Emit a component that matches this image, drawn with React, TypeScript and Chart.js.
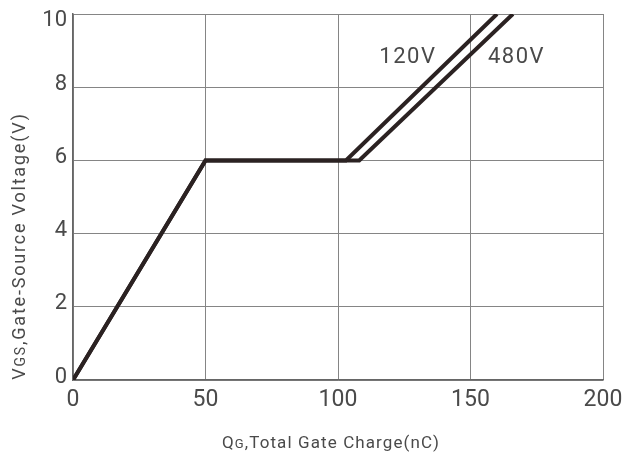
import React, { useEffect, useRef } from "react";
import { Chart, registerables } from "chart.js";

Chart.register(...registerables);

// Data
const qg120 = [0, 50, 103, 160];
const vgs120 = [0, 6, 6, 10];
const qg480 = [0, 50, 108, 166];
const vgs480 = [0, 6, 6, 10];
const seriesNames = ["120V", "480V"];
const labelQg = [126, 167];
const labelVgs = [8.8, 8.8];

const xTitleMain = ["Q", "G", ",Total Gate Charge(nC)"];
const yTitleMain = ["V", "GS", ",Gate-Source Voltage(V)"];

const FONT = "Roboto, 'Liberation Sans', sans-serif";
const LINE_COLOR = "#2b2222";
const TEXT_COLOR = "#4a4a4a";

function drawMixed(ctx: CanvasRenderingContext2D, parts: string[], size: number, smallSize: number, spacing: number) {
  const fonts = [`${size}px ${FONT}`, `${smallSize}px ${FONT}`, `${size}px ${FONT}`];
  (ctx as any).letterSpacing = `${spacing}px`;
  let total = 0;
  const widths = parts.map((p, i) => {
    ctx.font = fonts[i];
    const w = ctx.measureText(p).width;
    total += w;
    return w;
  });
  let x = -total / 2;
  parts.forEach((p, i) => {
    ctx.font = fonts[i];
    ctx.fillText(p, x, 0);
    x += widths[i];
  });
  (ctx as any).letterSpacing = "0px";
}

const textPlugin = {
  id: "customText",
  afterDraw(chart: any) {
    const ctx = chart.ctx as CanvasRenderingContext2D;
    const xs = chart.scales.x;
    const ys = chart.scales.y;
    ctx.save();
    ctx.fillStyle = TEXT_COLOR;
    ctx.textBaseline = "alphabetic";
    ctx.textAlign = "left";
    // x title
    ctx.save();
    ctx.translate(331, 448);
    drawMixed(ctx, xTitleMain, 17, 13, 1.1);
    ctx.restore();
    // y title
    ctx.save();
    ctx.translate(25, 246);
    ctx.rotate(-Math.PI / 2);
    drawMixed(ctx, yTitleMain, 18, 14, 1.8);
    ctx.restore();
    // series labels
    ctx.font = `22px ${FONT}`;
    (ctx as any).letterSpacing = "1.5px";
    ctx.textAlign = "center";
    ctx.textBaseline = "middle";
    seriesNames.forEach((n, i) => {
      ctx.fillText(n, xs.getPixelForValue(labelQg[i]) + 1, ys.getPixelForValue(labelVgs[i]));
    });
    (ctx as any).letterSpacing = "0px";
    ctx.restore();
  },
};

const zeroPad = (s: any) => {
  s.paddingTop = 0;
  s.paddingBottom = 0;
  s.paddingLeft = 0;
  s.paddingRight = 0;
};

export default function App() {
  const ref = useRef<HTMLCanvasElement | null>(null);
  useEffect(() => {
    if (!ref.current) return;
    const chart = new Chart(ref.current, {
      type: "line",
      data: {
        datasets: [
          {
            label: seriesNames[0],
            data: qg120.map((x, i) => ({ x, y: vgs120[i] })),
            borderColor: LINE_COLOR,
            borderWidth: 4,
            pointRadius: 0,
            fill: false,
            tension: 0,
          },
          {
            label: seriesNames[1],
            data: qg480.map((x, i) => ({ x, y: vgs480[i] })),
            borderColor: LINE_COLOR,
            borderWidth: 4,
            pointRadius: 0,
            fill: false,
            tension: 0,
          },
        ],
      },
      options: {
        responsive: false,
        animation: false,
        layout: { padding: { left: 0, right: 21, top: 14, bottom: 0 } },
        plugins: { legend: { display: false }, tooltip: { enabled: false } },
        scales: {
          x: {
            type: "linear",
            min: 0,
            max: 200,
            ticks: {
              stepSize: 50,
              padding: 6,
              color: TEXT_COLOR,
              font: { family: FONT, size: 23 },
              maxRotation: 0,
            },
            grid: { color: "#858585", lineWidth: 1, drawTicks: false },
            border: { color: "#666666", width: 1.5 },
            afterFit: (s: any) => {
              s.height = 77;
              zeroPad(s);
            },
          },
          y: {
            type: "linear",
            min: 0,
            max: 10,
            ticks: {
              stepSize: 2,
              padding: 6,
              labelOffset: -3,
              color: TEXT_COLOR,
              font: (c: any) => ({
                family: FONT,
                size: 22,
                lineHeight: c.tick && c.tick.value === 10 ? 0.9 : 1.2,
              }),
              callback: (v: any) => (v === 10 ? ["", "10"] : String(v)),
            },
            grid: { color: "#858585", lineWidth: 1, drawTicks: false },
            border: { color: "#666666", width: 1.5 },
            afterFit: (s: any) => {
              s.width = 73;
              zeroPad(s);
            },
          },
        },
      },
      plugins: [textPlugin],
    });
    return () => chart.destroy();
  }, []);
  return (
    <div style={{ position: "absolute", left: 0, top: 0, width: 624, height: 457, background: "#fff" }}>
      <canvas ref={ref} width={624} height={457} />
    </div>
  );
}
